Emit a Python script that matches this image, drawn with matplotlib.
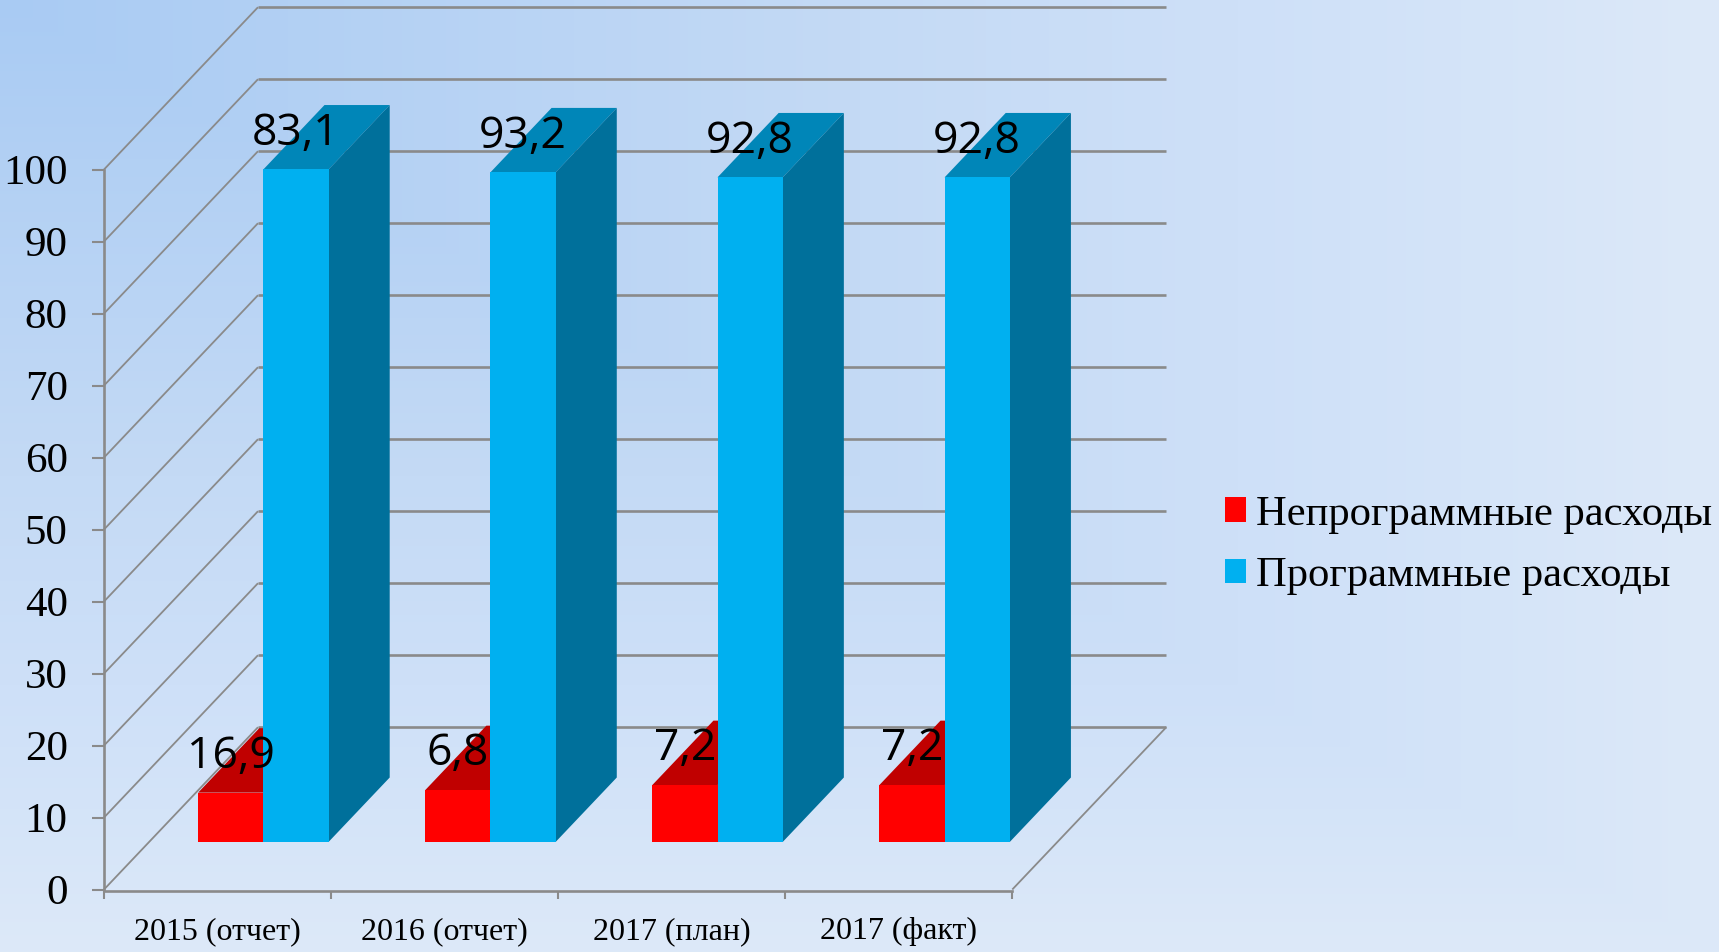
import numpy as np
import matplotlib
matplotlib.use("Agg")
import matplotlib.pyplot as plt
from matplotlib.patches import Patch

# values as they are drawn (the labels in the source chart say something else)
categories = ["2015 (отчет)", "2016 (отчет)", "2017 (план)", "2017 (факт)"]
nonprogram = [6.85, 7.2, 7.9, 7.9]
program = [93.4, 93.0, 92.3, 92.3]
nonprogram_labels = ["16,9", "6,8", "7,2", "7,2"]
program_labels = ["83,1", "93,2", "92,8", "92,8"]
yticks = list(range(0, 101, 10))
legend_names = ["Непрограммные расходы", "Программные расходы"]

W, H = 1719, 952
GRAY = "#8a8a8a"
SERIF = "Liberation Serif"

# plot box of the front plane, in pixels
X0, X1 = 104.0, 1012.3
Y0, Y100 = 889.5, 169.5
px_x = (X1 - X0) / 4
px_y = (Y0 - Y100) / 100

# depth of the 3d box, in data units
DX = 154.0 / px_x
DY = 162.3 / px_y
BAR_W = 65.2 / px_x
BAR_START = 0.293
BAR_SHIFT = 0.7 / px_x
BAR_DEPTH = 0.397

fig = plt.figure(figsize=(W / 100, H / 100), dpi=100)

# background: rectangular gradient out of the top left corner
bg = fig.add_axes([0, 0, 1, 1])
yy, xx = np.mgrid[0:1:480j, 0:1:860j]
t = np.maximum(xx, yy)
stops = [0, 0.5, 0.72, 0.85, 1]
reds = [0xa9, 0xc4, 0xce, 0xd4, 0xdd]
greens = [0xcb, 0xda, 0xe0, 0xe4, 0xe9]
blues = [0xf3, 0xf5, 0xf8, 0xf9, 0xf8]
rgb = np.dstack([np.interp(t, stops, c) for c in (reds, greens, blues)]) / 255
bg.imshow(rgb, aspect="auto", extent=[0, 1, 0, 1], origin="upper")
bg.axis("off")

ax = fig.add_axes([X0 / W, 1 - Y0 / H, (X1 - X0) / W, (Y0 - Y100) / H])
ax.patch.set_alpha(0)
ax.set_xlim(0, 4)
ax.set_ylim(0, 100)

# walls
for v in yticks:
    ax.plot([0, DX], [v, v + DY], color=GRAY, lw=1.3, clip_on=False, zorder=1, solid_capstyle="butt")
    ax.plot([DX, 4 + DX], [v + DY, v + DY], color=GRAY, lw=1.9, clip_on=False, zorder=1,
            solid_capstyle="butt")
ax.plot([4, 4 + DX], [0, DY], color=GRAY, lw=1.3, clip_on=False, zorder=1, solid_capstyle="butt")


def draw_bar(left, height, front, top, side, z):
    base = BAR_START * DY
    right = left + BAR_W
    ddx = BAR_DEPTH * DX
    ddy = BAR_DEPTH * DY
    ax.fill([left, left + ddx, right + ddx, right],
            [base + height, base + height + ddy, base + height + ddy, base + height],
            color=top, lw=0, clip_on=False, zorder=z)
    ax.fill([right, right + ddx, right + ddx, right],
            [base, base + ddy, base + height + ddy, base + height],
            color=side, lw=0, clip_on=False, zorder=z)
    ax.bar(left, height, BAR_W, bottom=base, align="edge", color=front, lw=0,
           clip_on=False, zorder=z + 0.1)


for i in range(len(categories)):
    center = i + 0.5 + BAR_START * DX + BAR_SHIFT
    draw_bar(center - BAR_W, nonprogram[i], "#ff0000", "#c00000", "#c00000", 2)
    draw_bar(center, program[i], "#00b0f0", "#0086b8", "#00709b", 3)
    ax.text(center - BAR_W / 2, nonprogram[i] + BAR_START * DY + 3.45, nonprogram_labels[i],
            ha="center", va="baseline", fontsize=32, family="Open Sans", color="black",
            clip_on=False, zorder=5)
    ax.text(center + BAR_W / 2, program[i] + BAR_START * DY + 3.45, program_labels[i],
            ha="center", va="baseline", fontsize=32, family="Open Sans", color="black",
            clip_on=False, zorder=5)

# axes
for s in ["top", "right"]:
    ax.spines[s].set_visible(False)
for s in ["left", "bottom"]:
    ax.spines[s].set_color(GRAY)
    ax.spines[s].set_linewidth(1.9)
ax.spines["bottom"].set_position(("outward", 0.9))
ax.set_yticks(yticks)
ax.set_yticklabels([str(v) for v in yticks], family=SERIF, fontsize=31)
ax.tick_params(axis="y", length=8.6, width=1.5, color=GRAY, pad=17.5)
ax.set_xticks(range(5))
ax.set_xticklabels([])
ax.tick_params(axis="x", which="major", length=6, width=1.5, color=GRAY)
ax.set_xticks(np.arange(len(categories)) + 0.5, minor=True)
ax.set_xticklabels(categories, minor=True, family=SERIF, fontsize=23)
ax.tick_params(axis="x", which="minor", length=0, pad=19)

handles = [Patch(color="#ff0000", lw=0), Patch(color="#00b0f0", lw=0)]
fig.legend(handles, legend_names, loc="center left", bbox_to_anchor=(1224.5 / W, 1 - 545 / H),
           frameon=False, borderpad=0, borderaxespad=0, handlelength=0.5, handleheight=0.5,
           handletextpad=0.25, labelspacing=0.535, prop={"family": SERIF, "size": 30.7})

fig.savefig("out.png", dpi=100)
